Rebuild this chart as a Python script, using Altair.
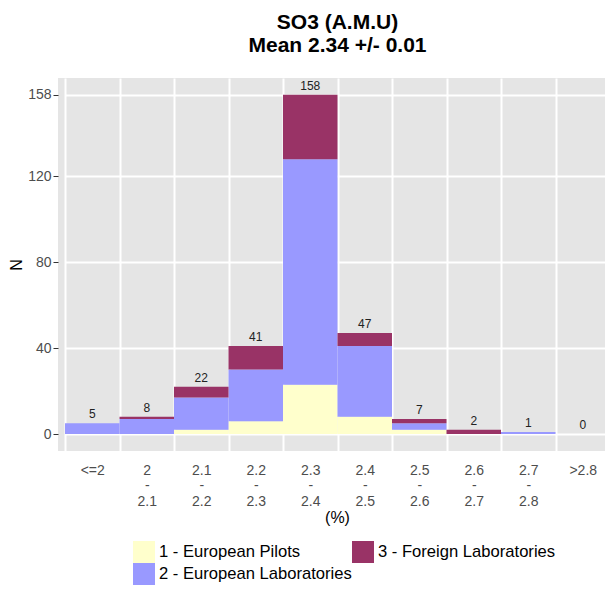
import altair as alt
import pandas as pd

categories = ["<=2", "2\n-\n2.1", "2.1\n-\n2.2", "2.2\n-\n2.3", "2.3\n-\n2.4",
              "2.4\n-\n2.5", "2.5\n-\n2.6", "2.6\n-\n2.7", "2.7\n-\n2.8", ">2.8"]
groups = ["1 - European Pilots", "2 - European Laboratories", "3 - Foreign Laboratories"]
pilots = [0, 0, 2, 6, 23, 8, 2, 0, 0, 0]
eu_labs = [5, 7, 15, 24, 105, 33, 3, 0, 1, 0]
foreign = [0, 1, 5, 11, 30, 6, 2, 2, 0, 0]
y_ticks = [0, 40, 80, 120, 158]
group_colors = ["#FFFFCC", "#9999FF", "#993366"]
title_lines = ["SO3 (A.M.U)", "Mean 2.34 +/- 0.01"]

rows = []
for gi, (g, vals) in enumerate(zip(groups, [pilots, eu_labs, foreign])):
    for c, v in zip(categories, vals):
        rows.append({"bin": c, "group": g, "order": gi, "n": v})
df = pd.DataFrame(rows)

FONT = "Liberation Sans"

x_enc = alt.X(
    "bin:N", sort=categories, title="(%)",
    scale=alt.Scale(range=[7, 552], paddingInner=0, paddingOuter=0),
    axis=alt.Axis(
        labelExpr="split(datum.label, '\\n')", labelAngle=0, labelFontSize=14,
        labelColor="#4D4D4D", labelFont=FONT, labelLineHeight=15.5,
        labelBaseline="top", labelPadding=12, ticks=False, domain=False,
        grid=True, gridColor="white", gridWidth=2, tickBand="extent",
        titleFontSize=16, titleFontWeight="normal", titleColor="black",
        titleFont=FONT, titleX=279, titleY=66, titleBaseline="middle",
        titleAlign="center",
    ),
)

y_scale = alt.Scale(domain=[-7.9, 165.8], nice=False, zero=False)
y_axis = alt.Axis(
    values=y_ticks, labelFontSize=14, labelColor="#4D4D4D", labelFont=FONT,
    tickColor="#333333", tickSize=5, tickWidth=1, labelPadding=2, domain=False,
    grid=True, gridColor="white", gridWidth=2, titleFontSize=16,
    titleFontWeight="normal", titleColor="black", titleFont=FONT,
    titleX=-42, titleY=186.5, titleAngle=270, titleBaseline="middle",
    titleAlign="center",
)

bars = alt.Chart(df).mark_bar().encode(
    x=x_enc,
    y=alt.Y("n:Q", stack="zero", scale=y_scale, axis=y_axis, title="N"),
    order=alt.Order("order:Q", sort="ascending"),
    color=alt.Color(
        "group:N", title=None,
        scale=alt.Scale(domain=groups, range=group_colors),
        legend=alt.Legend(
            orient="none", legendX=75, legendY=463, columns=2,
            columnPadding=-13, rowPadding=0, symbolType="square", symbolSize=484,
            symbolStrokeWidth=0, symbolOpacity=1, labelFontSize=16.6, labelFont=FONT,
            labelColor="black", labelOffset=4, padding=0, labelLimit=400,
        ),
    ),
)

labels = alt.Chart(df).transform_aggregate(
    total="sum(n)", groupby=["bin"]
).mark_text(
    baseline="bottom", dy=-2, fontSize=12, font=FONT, color="#222222"
).encode(
    x=alt.X("bin:N", sort=categories, title="(%)"),
    y=alt.Y("total:Q", title="N"),
    text="total:Q",
)

chart = alt.layer(bars, labels).properties(
    width=547, height=373,
    autosize=alt.AutoSizeParams(type="none"),
    padding={"left": 50, "top": 70, "right": 0, "bottom": 134},
    title=alt.TitleParams(
        text=title_lines, fontSize=21, fontWeight="bold", font=FONT,
        color="black", anchor="middle", lineHeight=23, offset=22, dx=6,
    ),
).configure_view(fill="#E5E5E5", strokeWidth=0)

chart.save("out.html", embed_options={"renderer": "svg", "actions": False})
